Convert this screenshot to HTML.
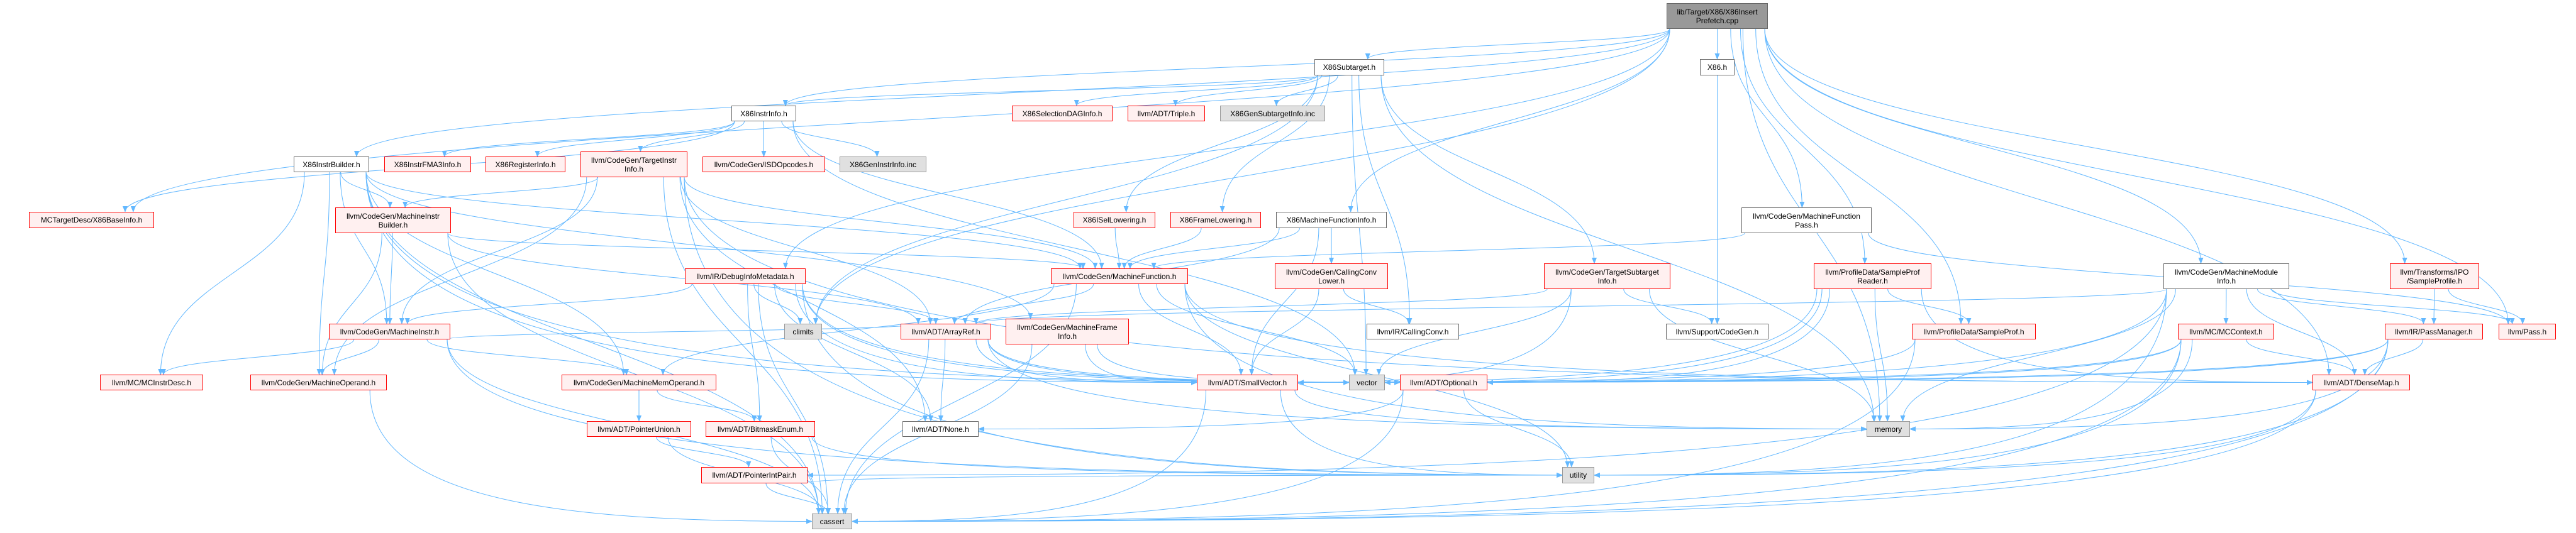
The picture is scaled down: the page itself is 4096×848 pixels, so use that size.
<!DOCTYPE html>
<html><head><meta charset="utf-8">
<style>
html,body{margin:0;padding:0;background:#fff;}
#wrap{position:relative;width:4096px;height:848px;overflow:hidden;}
svg{position:absolute;left:0;top:0;}
.n{position:absolute;box-sizing:border-box;font-family:"Liberation Sans",sans-serif;font-size:12px;line-height:14px;color:#000;text-align:center;display:flex;align-items:center;justify-content:center;white-space:nowrap;z-index:2;}
.w{background:#fff;border:1px solid #666;}
.r{background:#fff0f0;border:1px solid #f00;}
.g{background:#e0e0e0;border:1px solid #999;}
.root{background:#999;border:1px solid #666;}
</style></head><body>
<div id="wrap">
<svg id="s" width="4096" height="848" xmlns="http://www.w3.org/2000/svg">
<defs><marker id="a" markerWidth="10" markerHeight="8" refX="9" refY="4" orient="auto" markerUnits="userSpaceOnUse"><path d="M0,0 L10,4 L0,8 z" fill="#63b8ff"/></marker></defs>
<g id="e" fill="none" stroke="#63b8ff" stroke-width="1"></g>
</svg>
<div class="n root" id="root" style="left:2650px;top:5px;width:161px;height:41px">lib/Target/X86/X86Insert<br>Prefetch.cpp</div>
<div class="n w" id="sub" style="left:2090px;top:94px;width:111px;height:26px">X86Subtarget.h</div>
<div class="n w" id="x86h" style="left:2703px;top:94px;width:55px;height:26px">X86.h</div>
<div class="n w" id="ii" style="left:1163px;top:168px;width:103px;height:25px">X86InstrInfo.h</div>
<div class="n r" id="sdag" style="left:1609px;top:168px;width:160px;height:25px">X86SelectionDAGInfo.h</div>
<div class="n r" id="triple" style="left:1793px;top:168px;width:123px;height:25px">llvm/ADT/Triple.h</div>
<div class="n g" id="gsub" style="left:1940px;top:168px;width:167px;height:25px">X86GenSubtargetInfo.inc</div>
<div class="n w" id="ib" style="left:467px;top:249px;width:120px;height:25px">X86InstrBuilder.h</div>
<div class="n r" id="fma" style="left:611px;top:249px;width:138px;height:25px">X86InstrFMA3Info.h</div>
<div class="n r" id="reg" style="left:772px;top:249px;width:127px;height:25px">X86RegisterInfo.h</div>
<div class="n r" id="tii" style="left:923px;top:241px;width:170px;height:41px">llvm/CodeGen/TargetInstr<br>Info.h</div>
<div class="n r" id="isd" style="left:1117px;top:249px;width:195px;height:25px">llvm/CodeGen/ISDOpcodes.h</div>
<div class="n g" id="gii" style="left:1335px;top:249px;width:138px;height:25px">X86GenInstrInfo.inc</div>
<div class="n r" id="base" style="left:46px;top:337px;width:199px;height:26px">MCTargetDesc/X86BaseInfo.h</div>
<div class="n r" id="mib" style="left:533px;top:330px;width:184px;height:41px">llvm/CodeGen/MachineInstr<br>Builder.h</div>
<div class="n r" id="isel" style="left:1707px;top:337px;width:130px;height:26px">X86ISelLowering.h</div>
<div class="n r" id="frame" style="left:1861px;top:337px;width:144px;height:26px">X86FrameLowering.h</div>
<div class="n w" id="mfi" style="left:2029px;top:337px;width:176px;height:26px">X86MachineFunctionInfo.h</div>
<div class="n w" id="mfp" style="left:2769px;top:330px;width:207px;height:41px">llvm/CodeGen/MachineFunction<br>Pass.h</div>
<div class="n r" id="dim" style="left:1089px;top:427px;width:192px;height:25px">llvm/IR/DebugInfoMetadata.h</div>
<div class="n r" id="mf" style="left:1671px;top:427px;width:218px;height:25px">llvm/CodeGen/MachineFunction.h</div>
<div class="n r" id="ccl" style="left:2027px;top:419px;width:180px;height:41px">llvm/CodeGen/CallingConv<br>Lower.h</div>
<div class="n r" id="tsi" style="left:2455px;top:419px;width:201px;height:41px">llvm/CodeGen/TargetSubtarget<br>Info.h</div>
<div class="n r" id="spr" style="left:2884px;top:419px;width:187px;height:41px">llvm/ProfileData/SampleProf<br>Reader.h</div>
<div class="n w" id="mmi" style="left:3440px;top:419px;width:200px;height:41px">llvm/CodeGen/MachineModule<br>Info.h</div>
<div class="n r" id="spf" style="left:3800px;top:419px;width:142px;height:41px">llvm/Transforms/IPO<br>/SampleProfile.h</div>
<div class="n r" id="mi" style="left:523px;top:515px;width:193px;height:25px">llvm/CodeGen/MachineInstr.h</div>
<div class="n g" id="climits" style="left:1247px;top:515px;width:60px;height:25px">climits</div>
<div class="n r" id="ar" style="left:1432px;top:515px;width:144px;height:25px">llvm/ADT/ArrayRef.h</div>
<div class="n r" id="mfinfo" style="left:1599px;top:507px;width:196px;height:41px">llvm/CodeGen/MachineFrame<br>Info.h</div>
<div class="n w" id="cc" style="left:2173px;top:515px;width:147px;height:25px">llvm/IR/CallingConv.h</div>
<div class="n w" id="cg" style="left:2649px;top:515px;width:163px;height:25px">llvm/Support/CodeGen.h</div>
<div class="n r" id="sp" style="left:3040px;top:515px;width:197px;height:25px">llvm/ProfileData/SampleProf.h</div>
<div class="n r" id="mcc" style="left:3463px;top:515px;width:153px;height:25px">llvm/MC/MCContext.h</div>
<div class="n r" id="pm" style="left:3792px;top:515px;width:156px;height:25px">llvm/IR/PassManager.h</div>
<div class="n r" id="pass" style="left:3973px;top:515px;width:91px;height:25px">llvm/Pass.h</div>
<div class="n r" id="mcid" style="left:159px;top:596px;width:164px;height:25px">llvm/MC/MCInstrDesc.h</div>
<div class="n r" id="mo" style="left:398px;top:596px;width:217px;height:25px">llvm/CodeGen/MachineOperand.h</div>
<div class="n r" id="mmo" style="left:893px;top:596px;width:246px;height:25px">llvm/CodeGen/MachineMemOperand.h</div>
<div class="n r" id="sv" style="left:1903px;top:596px;width:161px;height:25px">llvm/ADT/SmallVector.h</div>
<div class="n g" id="vec" style="left:2145px;top:596px;width:57px;height:25px">vector</div>
<div class="n r" id="opt" style="left:2226px;top:596px;width:139px;height:25px">llvm/ADT/Optional.h</div>
<div class="n r" id="dm" style="left:3677px;top:596px;width:155px;height:25px">llvm/ADT/DenseMap.h</div>
<div class="n r" id="pu" style="left:933px;top:670px;width:166px;height:25px">llvm/ADT/PointerUnion.h</div>
<div class="n r" id="bme" style="left:1122px;top:670px;width:174px;height:25px">llvm/ADT/BitmaskEnum.h</div>
<div class="n w" id="none" style="left:1435px;top:670px;width:121px;height:25px">llvm/ADT/None.h</div>
<div class="n g" id="mem" style="left:2968px;top:670px;width:69px;height:25px">memory</div>
<div class="n r" id="pip" style="left:1115px;top:743px;width:169px;height:26px">llvm/ADT/PointerIntPair.h</div>
<div class="n g" id="util" style="left:2484px;top:743px;width:51px;height:26px">utility</div>
<div class="n g" id="cassert" style="left:1291px;top:817px;width:64px;height:25px">cassert</div>
</div>
<script>
var E="root>ib root>ii root>base root>sub root>x86h root>mfp root>mfi root>dim root>mmi root>spf root>spr root>sp root>climits root>mem root>pass root>dm "+
"sub>ii sub>sdag sub>triple sub>gsub sub>isel sub>frame sub>cc sub>tsi sub>mem sub>climits sub>vec "+
"ii>fma ii>reg ii>tii ii>isd ii>gii ii>base ii>vec ii>mf "+
"ib>mib ib>mi ib>mcid ib>mo ib>mmo ib>mf ib>mfinfo ib>sv ib>cassert ib>vec "+
"tii>mib tii>mi tii>ar tii>mf tii>cassert tii>util tii>dm tii>none tii>mo "+
"mib>mi mib>mo mib>cassert mib>mf mib>ar "+
"mi>mcid mi>mo mi>mmo mi>cassert mi>util mi>ar "+
"mo>cassert mmo>pu mmo>bme pu>pip pu>cassert bme>cassert bme>util pip>cassert pip>util "+
"dim>climits dim>ar dim>none dim>bme dim>sv dim>opt dim>cassert dim>vec dim>mi dim>util "+
"mf>ar mf>sv mf>mmo mf>cassert mf>util mf>vec mf>mem mf>dm "+
"isel>mf frame>mf mfi>mf mfi>ccl mfi>sv mfi>ar "+
"ar>none ar>cassert ar>sv ar>vec ar>mem ar>opt mfinfo>sv mfinfo>cassert mfinfo>vec "+
"sv>cassert sv>util sv>mem opt>none opt>cassert opt>util "+
"ccl>cc ccl>sv tsi>ar tsi>sv tsi>cg tsi>mem tsi>vec x86h>cg mfp>mf mfp>pass "+
"spr>sp spr>mem spr>sv spr>opt spr>vec spr>dm sp>cassert sp>sv "+
"mmi>mcc mmi>pm mmi>pass mmi>dm mmi>mem mmi>util mmi>vec mmi>ar mmi>pip "+
"spf>pm spf>pass mcc>dm mcc>mem mcc>util mcc>vec mcc>sv mcc>cassert "+
"pm>dm pm>cassert pm>util pm>vec pm>mem pm>sv dm>cassert dm>util";
var SIDE={cassert:1,util:1,mem:1,none:1,pip:1,opt:1,sv:1,vec:1,dm:1};
var g=document.getElementById('e');
function box(id){var d=document.getElementById(id);return{x:d.offsetLeft,y:d.offsetTop,w:d.offsetWidth,h:d.offsetHeight};}
E.split(/\s+/).forEach(function(p){if(!p)return;var a=p.split('>'),s=box(a[0]),t=box(a[1]);
var sx=s.x+s.w/2,sy=s.y+s.h,tx=t.x+t.w/2,ty=t.y,d;
var dx=tx-sx,dy=ty-sy;
if(SIDE[a[1]]&&Math.abs(dx)>3*dy&&Math.abs(dx)>250){
 sx=sx+Math.max(-s.w/2+5,Math.min(s.w/2-5,dx*0.1));
 var ex=dx>0?t.x:t.x+t.w,ey=t.y+t.h/2;var edy=ey-sy;
 d="M"+sx+","+sy+" C"+sx+","+(sy+edy*0.9)+" "+(ex-(ex-sx)*0.5)+","+ey+" "+ex+","+ey;
}else{
 sx=sx+Math.max(-s.w/2+5,Math.min(s.w/2-5,dx*0.15));
 tx=tx-Math.max(-t.w/3,Math.min(t.w/3,dx*0.05));
 d="M"+sx+","+sy+" C"+sx+","+(sy+dy*0.5)+" "+tx+","+(ty-dy*0.5)+" "+tx+","+ty;
}
var pa=document.createElementNS('http://www.w3.org/2000/svg','path');pa.setAttribute('d',d);pa.setAttribute('marker-end','url(#a)');g.appendChild(pa);});
</script>
</body></html>
